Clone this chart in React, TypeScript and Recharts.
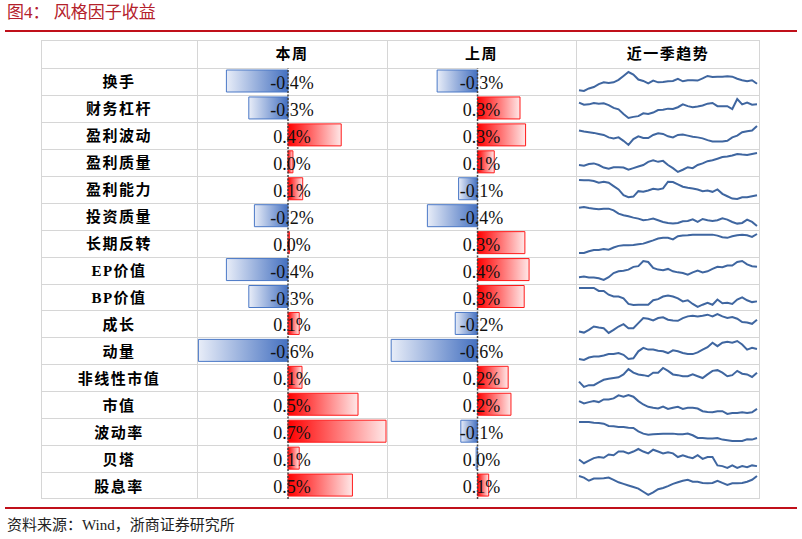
import React from "react";
import {
  Bar,
  BarChart,
  Cell,
  LabelList,
  Line,
  LineChart,
  ReferenceLine,
  XAxis,
  YAxis,
} from "recharts";

const factors = [
  "换手", "财务杠杆", "盈利波动", "盈利质量", "盈利能力", "投资质量", "长期反转", "EP价值",
  "BP价值", "成长", "动量", "非线性市值", "市值", "波动率", "贝塔", "股息率",
];

// 本周 / 上周 returns, %
const thisWeek = [-0.44, -0.28, 0.38, 0.035, 0.105, -0.24, 0.01, -0.44, -0.28, 0.08, -0.64, 0.1, 0.5, 0.7, 0.08, 0.46];
const lastWeek = [-0.29, 0.305, 0.345, 0.12, -0.136, -0.36, 0.34, 0.37, 0.335, -0.16, -0.62, 0.22, 0.24, -0.12, -0.01, 0.08];

// 近一季趋势 sparklines (relative levels)
const trend1 = [15, 13, 20, 24, 32, 37, 35, 37, 44, 55, 66, 59, 45, 41, 34, 42, 37, 38, 40, 41, 47, 40, 43, 43, 42, 48, 55, 52, 53, 53, 54, 53, 47, 43, 40, 43, 33];
const trend2 = [56, 50, 51, 55, 53, 54, 49, 41, 37, 24, 13, 16, 18, 26, 24, 28, 35, 36, 39, 38, 43, 51, 46, 43, 45, 48, 53, 55, 46, 46, 46, 38, 66, 51, 56, 50, 51];
const trend3 = [57, 54, 52, 50, 47, 44, 37, 34, 37, 27, 15, 32, 40, 35, 35, 44, 49, 47, 40, 37, 44, 45, 42, 39, 37, 34, 29, 25, 25, 25, 27, 37, 42, 52, 55, 57, 70];
const trend4 = [33, 31, 36, 38, 33, 25, 21, 26, 26, 25, 18, 23, 28, 33, 43, 48, 43, 46, 33, 23, 11, 18, 26, 23, 33, 38, 45, 48, 53, 58, 60, 63, 68, 66, 65, 68, 71];
const trend5 = [70, 69, 69, 67, 62, 65, 62, 52, 42, 25, 19, 21, 37, 35, 39, 44, 42, 45, 65, 64, 57, 50, 47, 45, 42, 37, 39, 35, 42, 29, 22, 15, 14, 19, 19, 22, 25];
const trend6 = [66, 68, 65, 63, 61, 63, 63, 58, 48, 43, 40, 36, 33, 28, 30, 33, 28, 23, 20, 18, 20, 25, 26, 31, 23, 32, 28, 26, 28, 34, 30, 23, 18, 20, 30, 23, 11];
const trend7 = [12, 12, 17, 21, 21, 24, 22, 29, 34, 36, 36, 37, 39, 41, 46, 51, 57, 59, 59, 54, 64, 66, 67, 69, 69, 69, 69, 69, 66, 61, 59, 64, 67, 69, 67, 62, 71];
const trend8 = [18, 20, 17, 17, 15, 10, 18, 30, 35, 37, 40, 48, 50, 65, 62, 45, 40, 38, 42, 35, 32, 30, 25, 32, 37, 32, 35, 42, 48, 47, 52, 52, 62, 65, 55, 50, 48];
const trend9 = [70, 70, 70, 70, 62, 62, 52, 47, 47, 42, 27, 24, 25, 25, 25, 37, 40, 47, 50, 47, 42, 34, 37, 27, 19, 25, 30, 25, 39, 29, 30, 27, 39, 45, 37, 32, 34];
const trend10 = [18, 15, 23, 33, 30, 28, 14, 23, 33, 40, 28, 28, 43, 58, 56, 51, 58, 60, 53, 51, 50, 58, 63, 65, 63, 65, 68, 63, 70, 63, 58, 61, 56, 46, 45, 41, 53];
const trend11 = [17, 14, 21, 24, 24, 27, 31, 31, 34, 29, 17, 19, 39, 49, 44, 44, 41, 39, 34, 42, 39, 34, 31, 31, 36, 44, 51, 64, 54, 64, 67, 64, 69, 59, 44, 49, 46];
const trend12 = [30, 15, 20, 20, 28, 35, 38, 40, 42, 50, 65, 55, 50, 48, 45, 55, 55, 68, 60, 50, 48, 45, 45, 50, 45, 40, 50, 60, 62, 55, 45, 48, 60, 52, 50, 43, 55];
const trend13 = [52, 45, 49, 52, 49, 57, 57, 60, 69, 65, 70, 65, 52, 42, 35, 32, 30, 36, 29, 32, 35, 29, 32, 32, 30, 22, 20, 19, 22, 22, 14, 17, 17, 19, 17, 19, 29];
const trend14 = [68, 68, 68, 66, 65, 63, 56, 55, 53, 53, 51, 50, 40, 33, 30, 31, 32, 33, 33, 33, 31, 31, 33, 28, 20, 20, 18, 18, 20, 15, 13, 11, 11, 11, 16, 15, 20];
const trend15 = [37, 27, 34, 41, 44, 42, 51, 49, 59, 59, 54, 59, 66, 59, 54, 64, 59, 54, 57, 54, 44, 49, 44, 41, 49, 39, 44, 44, 21, 19, 14, 21, 14, 19, 16, 21, 19];
const trend16 = [70, 65, 55, 62, 62, 63, 65, 58, 50, 45, 40, 35, 30, 20, 10, 18, 28, 32, 38, 45, 50, 55, 58, 52, 52, 48, 47, 48, 55, 48, 42, 47, 47, 48, 52, 58, 70];

const trends = [trend1, trend2, trend3, trend4, trend5, trend6, trend7, trend8, trend9, trend10, trend11, trend12, trend13, trend14, trend15, trend16];

const DOMAIN: [number, number] = [-0.65, 0.707];
const SERIF = "'Liberation Serif', 'Noto Sans CJK SC', serif";
const CJK = "'Liberation Serif', 'Noto Sans CJK SC', sans-serif";
const GRID = "#d6d6d6";
const RED = "#c0101a";

// table geometry
const T_LEFT = 41;
const T_TOP = 40;
const T_RIGHT = 760;
const HEAD_H = 28;
const ROWS_H = 431;
const COL_X = [197, 387, 576];
const NAME_W = COL_X[0] - T_LEFT;

const NameTick = ({ y, payload }: any) => (
  <text
    x={NAME_W / 2}
    y={y}
    dy={1}
    textAnchor="middle"
    dominantBaseline="central"
    fontFamily={CJK}
    fontWeight="bold"
    fontSize={15}
    letterSpacing={1.5}
    fill="#000"
  >
    {payload.value}
  </text>
);

const valueLabel = (cx: number) => (props: any) => {
  const { y, height, value } = props;
  const v = Math.abs(value) < 0.05 ? 0 : value;
  return (
    <text
      x={cx}
      y={y + height / 2}
      dy={2}
      textAnchor="middle"
      dominantBaseline="central"
      fontFamily={SERIF}
      fontSize={18}
      fill="#111"
    >
      {v.toFixed(1)}%
    </text>
  );
};

function Gradients({ id }: { id: string }) {
  return (
    <defs>
      <linearGradient id={`neg-${id}`} x1="0" y1="0" x2="1" y2="0">
        <stop offset="0%" stopColor="#e8edf8" />
        <stop offset="100%" stopColor="#4470c0" />
      </linearGradient>
      <linearGradient id={`pos-${id}`} x1="0" y1="0" x2="1" y2="0">
        <stop offset="0%" stopColor="#ff0000" />
        <stop offset="100%" stopColor="#ffe8e8" />
      </linearGradient>
    </defs>
  );
}

function WeekChart({
  id,
  values,
  withNames,
  left,
  width,
}: {
  id: string;
  values: number[];
  withNames: boolean;
  left: number;
  width: number;
}) {
  const data = factors.map((name, i) => ({ name, value: values[i] }));
  const plotW = withNames ? width - NAME_W : width;
  const cx = (withNames ? NAME_W : 0) + plotW / 2;
  return (
    <div style={{ position: "absolute", left, top: T_TOP + HEAD_H }}>
      <BarChart
        width={width}
        height={ROWS_H}
        data={data}
        layout="vertical"
        margin={{ top: 0, right: 0, bottom: 0, left: 0 }}
        barSize={22}
      >
        <Gradients id={id} />
        <XAxis type="number" domain={DOMAIN} hide allowDataOverflow />
        <YAxis
          type="category"
          dataKey="name"
          width={withNames ? NAME_W : 0}
          hide={!withNames}
          axisLine={false}
          tickLine={false}
          tick={<NameTick />}
          interval={0}
        />
        <Bar dataKey="value" isAnimationActive={false} strokeWidth={1}>
          {data.map((d, i) => (
            <Cell
              key={i}
              fill={d.value < 0 ? `url(#neg-${id})` : `url(#pos-${id})`}
              stroke={d.value < 0 ? "#4a78c6" : "#ff1a1a"}
            />
          ))}
          <LabelList dataKey="value" content={valueLabel(cx)} />
        </Bar>
        <ReferenceLine x={0} stroke="#444" strokeWidth={1.5} strokeDasharray="2 1.5" />
      </BarChart>
    </div>
  );
}

function Spark({ values, row }: { values: number[]; row: number }) {
  const data = values.map((v, i) => ({ i, v }));
  const rowH = ROWS_H / factors.length;
  return (
    <div
      style={{
        position: "absolute",
        left: COL_X[2],
        top: T_TOP + HEAD_H + row * rowH,
      }}
    >
      <LineChart
        width={T_RIGHT - COL_X[2]}
        height={rowH}
        data={data}
        margin={{ top: 4, right: 3, bottom: 4, left: 3 }}
      >
        <XAxis dataKey="i" hide />
        <YAxis hide domain={["dataMin", "dataMax"]} />
        <Line
          type="linear"
          dataKey="v"
          stroke="#3f66a0"
          strokeWidth={2}
          dot={false}
          isAnimationActive={false}
        />
      </LineChart>
    </div>
  );
}

export default function App() {
  const rowH = ROWS_H / factors.length;
  const headStyle: React.CSSProperties = {
    position: "absolute",
    top: T_TOP,
    height: HEAD_H,
    lineHeight: `${HEAD_H}px`,
    textAlign: "center",
    fontFamily: CJK,
    fontWeight: "bold",
    fontSize: 15,
    letterSpacing: 1.5,
    color: "#000",
  };
  return (
    <div
      style={{
        position: "absolute",
        left: 0,
        top: 0,
        width: 802,
        height: 539,
        background: "#fff",
        overflow: "hidden",
      }}
    >
      {/* title */}
      <div
        style={{
          position: "absolute",
          left: 7,
          top: 3,
          fontFamily: SERIF,
          fontSize: 17,
          lineHeight: "20px",
          color: "#b4202a",
          whiteSpace: "pre",
        }}
      >
        图4： 风格因子收益
      </div>
      <div style={{ position: "absolute", left: 5, top: 30, width: 792, height: 1.5, background: RED }} />

      {/* table grid */}
      <div
        style={{
          position: "absolute",
          left: T_LEFT,
          top: T_TOP,
          width: T_RIGHT - T_LEFT,
          height: HEAD_H + ROWS_H,
          border: `1px solid ${GRID}`,
          boxSizing: "border-box",
        }}
      />
      {COL_X.map((x) => (
        <div
          key={x}
          style={{ position: "absolute", left: x, top: T_TOP, width: 1, height: HEAD_H + ROWS_H, background: GRID }}
        />
      ))}
      {factors.map((_, i) => (
        <div
          key={i}
          style={{
            position: "absolute",
            left: T_LEFT,
            top: Math.round(T_TOP + HEAD_H + i * rowH),
            width: T_RIGHT - T_LEFT,
            height: 1,
            background: GRID,
          }}
        />
      ))}

      {/* headers */}
      <div style={{ ...headStyle, left: COL_X[0], width: COL_X[1] - COL_X[0] }}>本周</div>
      <div style={{ ...headStyle, left: COL_X[1], width: COL_X[2] - COL_X[1] }}>上周</div>
      <div style={{ ...headStyle, left: COL_X[2], width: T_RIGHT - COL_X[2] }}>近一季趋势</div>

      <WeekChart id="tw" values={thisWeek} withNames left={T_LEFT} width={COL_X[1] - T_LEFT} />
      <WeekChart id="lw" values={lastWeek} withNames={false} left={COL_X[1]} width={COL_X[2] - COL_X[1]} />

      {trends.map((t, i) => (
        <Spark key={i} values={t} row={i} />
      ))}

      <div style={{ position: "absolute", left: 5, top: 507, width: 792, height: 1.5, background: RED }} />
      <div
        style={{
          position: "absolute",
          left: 7,
          top: 515,
          fontFamily: SERIF,
          fontSize: 15,
          lineHeight: "20px",
          color: "#222",
        }}
      >
        资料来源：Wind，浙商证券研究所
      </div>
    </div>
  );
}
